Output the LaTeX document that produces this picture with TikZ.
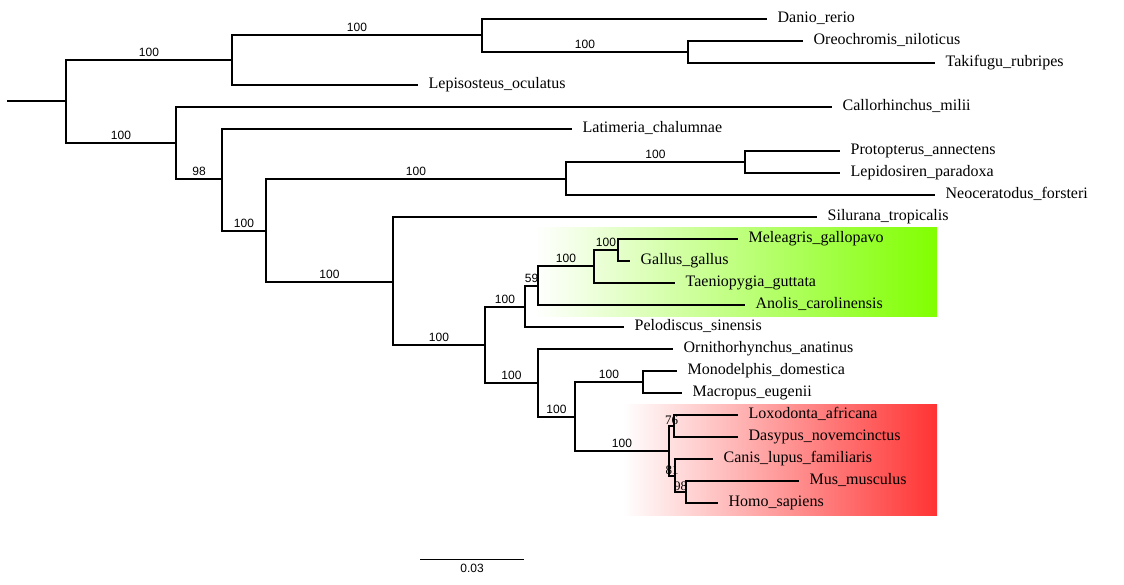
\documentclass[tikz,border=0pt]{standalone}
\usepackage{fontspec}
\setmainfont{Liberation Serif}
\setsansfont{Liberation Sans}
\usetikzlibrary{positioning,calc}
\definecolor{birdzone}{RGB}{128,255,0}
\definecolor{mammalzone}{RGB}{255,51,51}

\begin{document}
\begin{tikzpicture}[x=1pt, y=-1pt, line width=1.3pt,
    taxon/.style={anchor=west, inner xsep=10pt, inner ysep=0pt, text height=0.88em, text depth=0.14em, font=\fontsize{16}{18}\selectfont},
    support/.style={above, inner sep=3pt, font=\sffamily\fontsize{12}{14}\selectfont},
    supportserif/.style={above, inner sep=1pt, font=\fontsize{13}{15}\selectfont}]

    \useasboundingbox (0,0) rectangle (1124,585);

    % Clade shading
    \shade[left color=white, right color=birdzone] (535,228) rectangle (937,316);
    \shade[left color=white, right color=mammalzone] (623,404) rectangle (937,515);

    % Internal nodes
    \coordinate (stem) at (7,101);
    \coordinate (root) at (66,101);
    \coordinate (actino) at (232,60);
    \coordinate (teleo) at (482,35);
    \coordinate (percom) at (688,52);
    \coordinate (chondsarc) at (176,143);
    \coordinate (sarco) at (222,179);
    \coordinate (rhipid) at (266,231);
    \coordinate (dipnoi) at (566,179);
    \coordinate (lepido) at (745,162);
    \coordinate (tetra) at (393,282);
    \coordinate (amniota) at (485,345);
    \coordinate (sauro) at (525,307);
    \coordinate (archel) at (538,286);
    \coordinate (aves) at (594,266);
    \coordinate (galli) at (618,250);
    \coordinate (mamm) at (538,383);
    \coordinate (theria) at (575,417);
    \coordinate (marsup) at (643,382);
    \coordinate (eutheria) at (669,451);
    \coordinate (atlanto) at (674,426);
    \coordinate (boreo) at (675,476);
    \coordinate (euarch) at (686,492);

    % Leaves
    \foreach \name/\x/\y/\taxname in {
        danio/767/19/Danio\_rerio, oreo/803/41/Oreochromis\_niloticus,
        taki/935/63/Takifugu\_rubripes, lepis/418/85/Lepisosteus\_oculatus,
        callo/832/107/Callorhinchus\_milii, latim/572/129/Latimeria\_chalumnae,
        proto/840/151/Protopterus\_annectens, lepid/840/173/Lepidosiren\_paradoxa,
        neoc/935/195/Neoceratodus\_forsteri, silur/817/217/Silurana\_tropicalis,
        melea/738/239/Meleagris\_gallopavo, gallus/630/261/Gallus\_gallus,
        taeni/675/283/Taeniopygia\_guttata, anolis/745/305/Anolis\_carolinensis,
        pelod/624/327/Pelodiscus\_sinensis, ornith/673/349/Ornithorhynchus\_anatinus,
        monod/677/371/Monodelphis\_domestica, macro/682/393/Macropus\_eugenii,
        loxo/738/415/Loxodonta\_africana, dasy/738/437/Dasypus\_novemcinctus,
        canis/713/459/Canis\_lupus\_familiaris, mus/799/481/Mus\_musculus,
        homo/718/503/Homo\_sapiens}
        \node[taxon] (\name) at (\x,\y) {\taxname};

    % Branches to leaves
    \foreach \a/\b in {teleo/danio, percom/oreo, percom/taki, actino/lepis,
        chondsarc/callo, sarco/latim, lepido/proto, lepido/lepid, dipnoi/neoc,
        tetra/silur, galli/melea, galli/gallus, aves/taeni, archel/anolis,
        sauro/pelod, mamm/ornith, marsup/monod, marsup/macro, atlanto/loxo,
        atlanto/dasy, boreo/canis, euarch/mus, euarch/homo}
        \draw (\a) |- (\b.west);

    % Inner branches with support values
    \draw (stem) -- (root);
    \foreach \a/\b/\s in {root/actino/100, actino/teleo/100, teleo/percom/100,
        root/chondsarc/100, chondsarc/sarco/98, sarco/rhipid/100, rhipid/dipnoi/100,
        dipnoi/lepido/100, rhipid/tetra/100, tetra/amniota/100, amniota/sauro/100,
        sauro/archel/59, archel/aves/100, aves/galli/100, amniota/mamm/100,
        mamm/theria/100, theria/marsup/100, theria/eutheria/100}
        \draw (\a) |- node[support, pos=0.75] {\s} (\b);
    \foreach \a/\b/\s in {eutheria/atlanto/76, eutheria/boreo/81, boreo/euarch/98}
        \draw (\a) |- node[supportserif, pos=0.75] {\s} (\b);

    % Scale bar
    \coordinate (barL) at (420,559);
    \coordinate (barR) at (524,559);
    \draw[line width=1pt] (barL) -- node[below, inner sep=5pt, font=\sffamily\fontsize{12}{14}\selectfont] (barlab) {0.03} (barR);
\end{tikzpicture}
\end{document}
